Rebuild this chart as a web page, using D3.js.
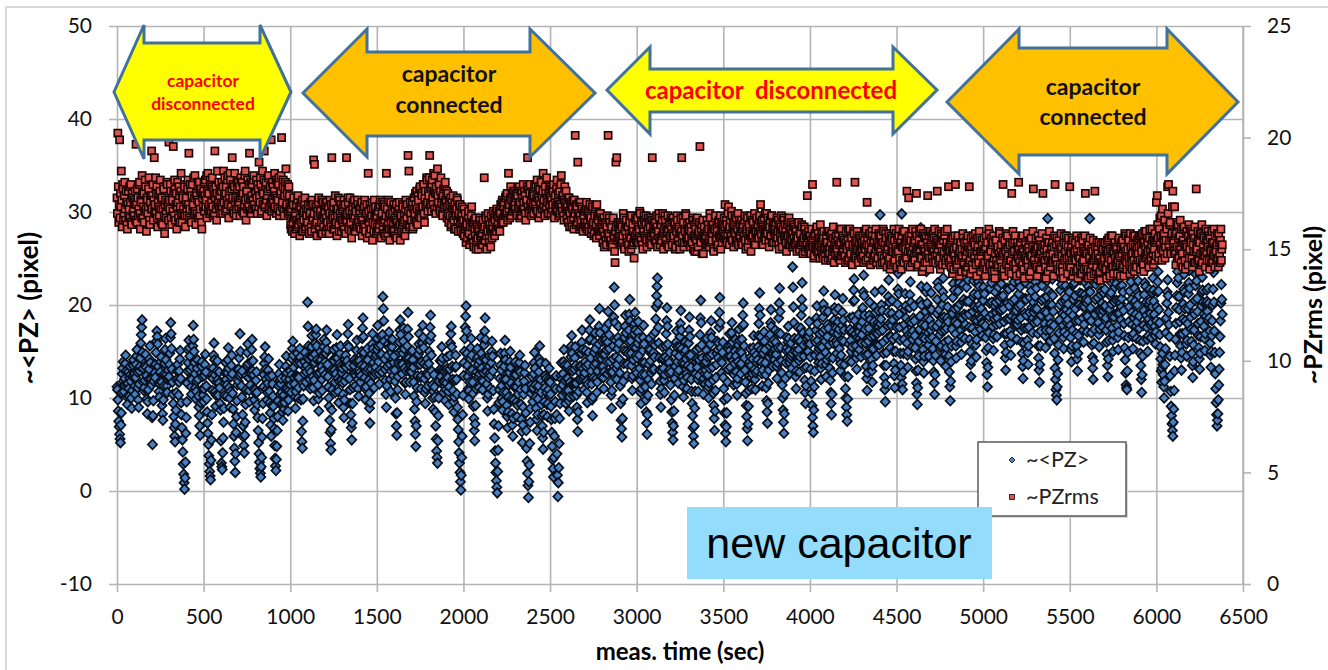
<!DOCTYPE html>
<html>
<head>
<meta charset="utf-8">
<script src="https://cdn.jsdelivr.net/npm/d3@7"></script>
<style>
body { margin: 0; background: #fff; }
svg { display: block; font-family: Lato, "Open Sans", sans-serif; }
</style>
</head>
<body>
<svg id="chart" width="1328" height="670"></svg>
<script>
var width = 1328;
var height = 670;

// axis ticks
var timeTicks = [0, 500, 1000, 1500, 2000, 2500, 3000, 3500, 4000, 4500, 5000, 5500, 6000, 6500];
var pzTicks = [-10, 0, 10, 20, 30, 40, 50];
var rmsTicks = [0, 5, 10, 15, 20, 25];

// samples logged every 2.5 s starting at t = 0
var sampleStep = 2.5;

// ~<PZ> (pixel), left axis, one row = 100 s
var pzValues = [
11.2,10.9,9.8,8.6,7.5,6.9,6.1,5.6,5.2,7.1,8.4,10.6,12.6,13.2,13.9,11.8,10.7,11.4,12.1,13.7,14.6,12.9,11.5,10.1,9.3,11.6,12.8,11.0,10.2,12.2,13.4,12.5,11.8,10.0,8.9,10.8,12.3,13.5,14.1,12.4,
12.7,11.3,10.4,12.2,13.6,14.5,15.2,12.8,11.1,9.8,9.0,11.5,12.9,13.4,14.3,15.9,16.8,17.6,18.4,14.9,13.2,11.7,10.8,11.1,11.9,13.5,14.7,13.3,12.4,9.9,8.3,9.6,10.9,12.0,13.1,14.2,15.6,13.8,12.0,11.6,
11.4,7.9,5.0,8.1,9.7,11.8,13.5,12.7,12.2,13.6,14.9,16.1,17.2,16.6,15.8,13.4,11.6,10.7,10.1,11.5,12.8,13.9,14.4,11.7,9.2,8.3,7.6,9.8,11.3,12.6,13.7,15.2,16.4,14.1,12.5,11.3,10.6,12.0,13.0,12.2,
12.3,13.6,14.8,16.5,18.1,16.9,15.3,13.1,11.7,10.4,9.4,8.0,6.8,5.9,5.3,7.2,8.7,10.6,12.0,12.9,13.6,11.8,10.3,11.7,12.9,14.2,15.1,12.1,9.5,8.2,6.8,5.5,4.2,2.9,1.8,0.9,0.2,1.4,3.1,6.2,
7.9,9.6,11.6,12.9,13.8,15.1,16.2,15.4,14.5,13.0,12.1,11.2,10.4,12.0,13.3,15.6,17.8,16.3,15.0,13.8,12.6,11.1,9.9,10.7,11.8,13.2,14.1,12.0,10.2,9.0,8.1,7.0,6.0,9.5,12.7,13.4,13.9,12.3,11.0,10.3,
9.6,11.0,12.4,13.6,14.7,12.8,11.3,9.9,8.5,7.3,6.2,5.0,3.8,2.9,2.1,1.6,1.2,3.3,5.5,8.2,10.8,12.1,13.2,14.6,15.9,14.1,12.5,10.7,9.1,10.3,11.7,12.9,14.0,12.0,10.3,11.6,12.8,11.1,9.4,8.7,
5.4,3.0,2.6,2.3,4.1,5.7,7.4,8.9,10.3,11.5,12.7,13.8,12.0,10.2,11.4,12.7,14.1,15.4,13.2,11.1,10.0,9.0,10.7,12.3,13.5,14.6,12.6,10.5,8.8,7.2,5.9,4.6,3.2,2.0,4.0,6.3,8.0,9.7,11.4,13.1,
11.8,13.1,14.3,12.4,16.9,15.0,12.6,11.3,10.1,12.9,8.2,7.0,5.8,4.9,4.1,6.0,7.4,9.3,10.9,12.4,13.5,14.9,15.8,13.7,12.2,10.8,9.6,12.7,11.4,12.6,13.9,15.2,16.3,12.9,14.0,12.5,11.0,9.8,8.7,10.9,
10.5,11.9,12.8,10.6,9.3,7.9,6.5,5.2,4.0,3.1,2.4,1.9,1.5,2.6,3.6,5.8,7.8,9.4,11.2,12.5,13.7,14.4,15.5,13.1,12.0,10.9,9.8,10.6,11.6,13.0,14.2,12.3,10.7,9.5,8.4,7.1,5.9,9.2,12.4,11.5,
10.2,9.1,7.8,6.7,4.9,3.5,2.7,2.2,3.4,4.8,6.5,8.0,9.7,11.3,12.6,13.6,11.9,10.4,11.5,12.1,10.6,9.4,8.5,7.6,9.0,10.3,8.8,9.5,11.0,12.1,13.4,14.5,12.7,11.0,9.9,8.6,9.8,10.8,12.0,13.0,
12.9,11.4,10.6,12.5,14.2,15.3,16.1,14.6,13.3,12.2,11.5,10.1,8.9,10.7,12.4,13.8,14.8,12.3,10.0,11.1,12.2,13.9,15.3,14.4,13.7,9.8,6.4,5.3,4.6,7.5,9.9,11.3,12.6,13.9,14.9,13.2,11.7,12.8,13.5,14.3,
20.3,17.7,15.6,14.2,13.1,12.0,11.0,12.8,14.4,15.5,16.7,14.4,12.3,11.1,9.7,11.9,13.8,14.7,15.9,16.8,17.4,15.6,14.1,12.6,11.4,9.9,8.6,10.5,12.7,14.0,15.0,14.1,13.4,12.0,10.8,12.9,14.6,15.5,16.3,14.8,
12.5,13.9,14.8,16.0,17.3,15.2,13.6,12.3,11.2,10.0,9.1,7.6,6.3,5.1,4.4,6.6,8.7,10.9,12.9,14.1,15.2,14.0,13.0,11.7,10.6,12.6,14.3,15.4,16.8,14.3,12.1,10.7,9.5,11.8,13.7,14.8,15.6,13.4,11.9,12.7,
13.2,11.6,10.4,9.0,7.9,9.8,11.8,13.4,14.6,13.3,12.3,14.0,15.7,16.9,17.9,15.5,13.5,12.1,10.9,9.4,8.2,6.8,5.5,7.3,9.4,11.1,12.7,13.5,14.1,12.6,11.3,12.4,13.9,15.1,16.2,14.0,12.0,11.0,10.2,12.6,
14.0,12.8,11.7,12.4,13.5,15.0,16.4,17.5,18.6,16.6,14.9,13.4,12.2,11.0,9.8,11.2,12.9,14.2,15.3,14.1,13.1,11.9,10.5,8.9,7.3,9.5,11.6,13.1,14.7,15.8,16.9,15.3,13.8,12.4,11.1,12.8,14.4,13.3,12.6,14.6,
15.2,16.4,17.8,15.6,13.9,12.6,11.5,13.0,14.6,15.7,16.6,14.7,12.8,16.8,20.9,19.6,18.3,16.1,14.2,13.1,11.9,10.4,9.0,11.3,13.4,14.6,15.8,16.5,17.1,15.4,13.6,12.0,10.7,12.9,14.9,15.5,16.3,14.2,12.4,13.8,
14.5,13.0,11.8,10.0,8.3,7.0,6.0,8.4,10.9,12.3,13.7,14.9,16.0,17.3,18.4,16.8,15.1,13.7,12.6,13.6,14.8,16.1,17.5,15.3,13.2,11.6,10.4,11.7,12.9,14.3,15.6,17.4,19.2,16.6,14.3,12.9,11.7,12.8,13.9,15.0,
12.8,14.0,15.1,14.1,13.3,11.7,10.2,8.8,7.5,6.1,4.8,7.0,9.6,11.1,12.4,13.6,14.7,15.8,16.9,15.2,13.6,12.2,11.0,12.4,13.9,15.9,17.8,16.5,15.4,13.7,12.1,10.6,9.4,11.0,12.6,13.5,14.2,12.7,11.3,12.5,
13.7,15.0,16.2,17.6,18.9,16.7,14.6,12.9,11.4,10.0,8.8,10.7,12.5,11.2,10.1,8.5,7.0,5.6,4.3,3.6,3.0,5.4,8.1,10.0,11.8,13.0,14.0,13.1,12.3,13.9,15.5,14.3,13.0,11.8,10.6,11.7,12.9,11.2,9.7,10.9,
11.6,13.0,14.4,13.2,12.2,10.7,9.3,11.2,13.1,14.6,15.9,16.9,17.7,15.5,13.4,12.0,10.8,9.6,8.5,10.1,11.9,13.3,14.6,13.4,12.0,10.4,9.0,7.7,6.6,5.3,4.1,3.0,2.0,1.0,0.1,1.7,3.6,5.9,8.2,10.3,
12.4,13.8,15.0,16.4,17.6,18.8,19.9,17.2,14.8,13.5,12.3,11.0,9.9,10.8,11.7,12.9,14.2,15.4,16.4,14.6,13.0,11.7,10.5,9.1,7.8,6.5,5.4,7.2,9.2,11.0,12.8,14.1,15.3,14.4,13.6,12.3,11.1,12.6,14.0,13.1,
16.5,14.8,13.2,12.0,10.9,11.8,12.7,14.2,15.7,17.2,18.6,16.3,14.1,12.8,11.5,10.0,8.6,10.4,12.2,13.4,14.5,12.7,11.0,12.4,13.8,15.0,16.1,14.5,12.9,10.8,8.8,7.2,5.7,4.3,3.0,2.0,1.1,0.4,-0.2,2.1,
4.4,7.0,9.5,10.9,12.1,13.5,14.8,13.0,11.3,10.0,8.7,9.6,10.6,12.0,13.4,14.8,16.2,14.1,12.0,10.6,9.2,8.0,6.8,8.5,10.1,11.4,12.7,13.9,15.0,13.3,11.6,9.9,8.3,7.1,5.9,7.8,9.8,11.2,12.5,13.7,
13.9,12.5,11.2,9.6,8.0,9.2,10.4,11.7,12.9,13.8,14.6,12.8,10.9,9.3,7.7,6.4,5.2,7.1,9.0,10.4,11.8,12.7,13.5,11.0,8.4,6.5,4.6,3.2,1.9,0.6,-0.7,1.0,2.8,5.1,7.4,8.9,10.5,11.4,12.3,11.0,
9.6,11.1,12.6,13.8,14.9,13.2,11.4,10.1,8.9,7.7,6.5,8.2,9.9,11.3,12.8,14.2,15.6,13.8,12.0,10.6,9.3,8.1,7.0,5.7,4.5,6.3,8.2,9.6,11.1,12.4,13.7,12.1,10.6,9.3,8.0,9.4,10.9,12.0,13.2,11.8,
11.7,10.4,9.1,7.7,6.3,4.8,3.4,2.4,1.5,3.6,5.9,7.8,9.6,11.0,12.4,8.2,4.0,1.7,-0.6,0.9,2.5,5.1,7.8,9.4,11.0,12.4,13.8,12.0,10.3,11.4,12.6,13.9,15.2,13.5,11.9,10.6,9.4,10.8,12.1,13.3,
13.5,12.1,10.8,9.7,8.6,10.1,11.7,13.0,14.4,15.6,16.7,14.8,12.9,11.5,10.2,11.6,13.1,14.3,15.5,13.5,11.6,10.3,9.0,7.7,6.4,8.5,10.7,12.0,13.4,12.7,12.0,13.4,14.8,16.0,17.3,15.2,13.2,12.0,10.9,12.3,
12.7,13.9,15.1,13.4,11.8,10.6,9.5,11.5,13.6,14.9,16.2,17.3,18.4,16.3,14.3,12.9,11.5,9.8,8.1,10.1,12.2,13.5,14.9,16.0,17.0,15.3,13.7,12.1,10.6,11.7,12.9,14.3,15.8,17.7,19.6,17.0,14.5,13.4,12.3,14.2,
16.1,14.7,13.4,12.2,11.0,12.8,14.7,16.1,17.5,16.3,15.2,13.9,12.6,16.0,19.3,18.0,16.8,15.3,13.9,12.8,11.7,10.3,8.9,10.8,12.8,14.2,15.6,18.7,21.9,20.0,18.1,16.2,14.4,13.2,12.0,13.6,15.3,16.5,17.7,15.9,
14.2,12.7,11.3,9.4,7.6,6.7,5.8,7.8,9.9,11.8,13.7,15.1,16.5,17.7,18.9,17.0,15.0,13.7,12.4,13.6,14.8,16.0,17.3,19.0,20.6,18.3,16.1,14.8,13.5,12.1,10.8,12.4,14.1,15.5,16.9,18.0,19.2,17.3,15.4,14.6,
12.7,14.3,15.9,17.1,18.2,16.4,14.6,13.2,11.9,10.6,9.4,11.0,12.5,13.8,15.1,16.5,17.8,15.8,13.8,12.5,11.2,9.8,8.5,7.3,6.1,8.2,10.3,12.0,13.6,15.0,16.4,15.2,14.0,12.7,11.5,13.1,14.7,15.8,16.8,14.9,
13.1,14.4,15.7,17.1,18.5,19.8,21.0,22.0,22.9,20.2,17.6,15.9,14.3,13.0,11.8,10.4,9.0,11.0,12.9,14.2,15.5,14.3,13.2,11.9,10.6,12.5,14.4,15.6,16.9,18.3,19.7,17.7,15.8,14.2,12.7,13.8,14.9,13.1,11.4,12.8,
9.8,8.5,7.3,6.3,5.5,7.0,8.6,10.3,12.1,13.4,14.8,16.0,17.2,15.5,13.9,12.7,11.6,13.0,14.5,15.5,16.6,18.0,19.4,17.3,15.3,13.8,12.3,11.2,10.1,11.9,13.7,14.8,16.0,15.1,14.2,12.6,11.0,12.2,13.5,14.6,
15.9,17.3,18.7,16.6,14.6,13.3,12.0,10.7,9.4,8.1,6.8,5.9,5.1,7.0,8.9,10.7,12.6,13.9,15.2,14.2,13.3,12.0,10.7,12.4,14.1,15.4,16.8,18.6,20.5,18.1,15.7,14.3,12.9,11.6,10.4,12.1,13.8,12.6,11.5,13.0,
13.9,15.1,16.4,14.4,12.5,11.2,10.0,11.6,13.2,14.5,15.8,17.0,18.3,16.5,14.7,13.3,11.9,10.5,9.2,7.8,6.5,8.6,10.8,12.2,13.6,14.8,16.1,15.2,14.3,15.9,17.6,19.2,20.8,18.1,15.4,14.0,12.7,13.8,14.9,16.0,
12.2,11.0,9.8,8.4,7.1,6.2,5.3,6.9,8.4,10.0,11.7,13.1,14.5,15.7,16.9,15.1,13.3,14.5,15.8,17.0,18.1,16.0,14.0,12.7,11.4,12.5,13.7,15.0,16.3,14.5,12.8,11.5,10.3,12.1,13.9,15.7,17.4,16.2,15.0,13.6,
12.6,13.7,14.9,16.3,17.7,18.9,20.2,17.9,15.6,14.3,13.0,11.7,10.5,9.2,8.0,6.7,5.4,7.2,9.1,10.8,12.4,13.9,15.3,14.4,13.5,12.2,11.0,12.6,14.2,15.4,16.7,14.9,13.1,12.0,10.9,12.7,14.6,13.8,12.9,14.1,
15.5,16.7,18.0,19.6,21.3,18.9,16.6,15.2,13.9,12.6,11.3,13.0,14.8,16.0,17.1,16.1,15.2,13.8,12.5,11.1,9.7,8.5,7.3,9.4,11.6,13.0,14.4,15.6,16.8,18.1,19.5,17.7,15.9,14.6,13.4,14.8,16.2,15.1,14.1,15.3,
17.3,16.0,14.7,13.4,12.1,13.8,15.4,17.0,18.6,20.2,21.8,19.3,16.9,15.4,14.0,12.7,11.4,10.0,8.7,7.4,6.2,8.3,10.4,12.1,13.8,15.1,16.5,15.4,14.3,16.0,17.7,16.4,15.1,13.8,12.6,14.2,15.9,14.5,13.2,14.8,
24.1,21.9,19.8,18.1,16.4,15.0,13.7,12.3,11.0,12.9,14.9,16.2,17.6,16.4,15.2,14.0,12.8,14.4,16.1,17.5,18.9,20.6,22.4,19.7,17.0,15.7,14.5,13.2,11.9,10.6,9.4,11.3,13.3,15.0,16.7,15.8,15.0,16.6,18.2,17.1,
15.8,14.4,13.1,11.8,10.5,9.2,7.9,7.0,6.3,8.7,11.2,12.9,14.6,16.0,17.3,18.6,19.9,18.0,16.2,15.0,13.8,15.3,16.9,15.6,14.4,13.2,12.0,13.7,15.5,17.1,18.7,20.1,21.5,19.4,17.4,16.1,14.9,13.6,12.3,14.1,
16.6,17.9,19.3,17.5,15.7,14.4,13.2,11.9,10.6,9.4,8.2,10.4,12.7,14.3,15.9,17.1,18.4,19.7,21.1,19.3,17.5,16.1,14.8,15.8,16.9,18.2,19.6,17.4,15.3,14.1,12.9,13.7,14.6,16.2,17.8,19.2,20.7,18.4,16.1,17.3,
13.6,12.3,11.0,10.0,9.0,8.2,7.5,9.9,12.3,14.0,15.8,17.2,18.6,17.4,16.2,15.0,13.9,15.5,17.1,18.7,20.4,21.6,22.8,20.5,18.3,16.9,15.6,14.3,13.1,14.8,16.5,17.7,19.0,17.1,15.2,16.4,17.7,16.0,14.4,15.9,
16.8,18.2,19.7,21.4,23.2,21.0,18.9,17.4,15.9,14.6,13.4,12.1,10.8,12.7,14.7,16.1,17.5,18.9,20.3,18.4,16.6,15.3,14.1,12.9,11.7,13.5,15.3,16.7,18.2,19.8,21.4,19.2,17.0,15.8,14.6,15.7,16.9,18.1,19.4,17.6,
15.7,17.2,29.7,18.0,18.5,20.0,21.6,19.4,17.3,16.0,14.8,13.5,12.2,10.9,9.6,11.5,13.5,14.9,16.4,17.8,19.2,20.9,22.7,20.3,18.0,16.7,15.4,16.6,17.8,19.1,20.5,18.4,16.3,15.0,13.7,12.4,11.1,13.0,15.0,16.6,
17.6,18.8,20.1,21.7,23.4,21.2,19.0,17.6,16.2,14.8,13.5,12.2,29.8,11.5,10.9,12.8,14.8,16.3,17.9,19.5,21.2,19.9,18.6,17.2,15.9,14.6,13.3,15.0,16.8,18.2,19.7,21.1,22.5,20.3,18.1,16.8,15.5,16.3,17.2,18.6,
19.9,18.3,16.7,15.4,14.2,12.9,11.6,10.4,9.3,11.1,13.0,14.5,16.1,17.4,18.8,20.4,28.3,22.0,20.0,17.9,16.5,15.2,13.9,12.7,14.5,16.4,17.8,19.3,21.4,23.6,21.9,20.2,18.6,17.0,15.7,14.5,16.4,18.4,19.6,17.3,
21.3,19.5,17.8,16.5,15.3,14.0,12.8,11.6,10.4,12.5,14.6,16.1,17.7,19.1,20.6,22.4,24.3,21.9,19.5,18.1,16.8,15.4,14.0,15.6,17.2,18.6,20.0,21.4,22.9,20.8,18.7,17.3,16.0,14.7,13.4,15.4,17.5,18.6,19.8,18.2,
16.2,14.5,12.8,11.2,9.7,11.8,13.9,15.6,17.4,19.1,20.8,22.3,23.7,21.6,19.6,18.2,16.9,15.6,14.3,16.1,18.0,19.7,21.5,23.1,24.8,22.4,20.1,18.7,17.3,16.0,14.7,16.6,18.6,20.4,22.2,20.6,19.0,17.7,16.4,17.9,
18.9,20.4,21.9,23.4,25.0,22.7,20.4,19.0,17.6,16.3,15.0,13.6,12.3,14.0,15.8,17.5,19.3,20.9,22.6,21.2,19.8,18.4,17.1,15.7,14.4,16.3,18.3,19.7,21.1,22.5,23.9,22.0,20.0,18.7,17.4,18.5,19.6,18.1,16.7,18.0,
20.5,21.9,23.4,21.2,19.1,17.8,16.5,15.1,13.8,12.5,11.2,13.3,15.4,17.0,18.7,20.2,21.8,23.2,24.6,22.4,20.3,19.0,17.7,16.4,15.1,16.8,18.5,19.9,21.4,20.3,19.2,17.9,16.6,18.6,20.7,21.9,23.1,20.5,18.0,19.3,
19.5,20.9,22.3,23.8,25.2,23.1,21.0,19.6,18.2,16.9,15.7,14.3,13.0,14.9,16.9,18.5,20.2,21.8,23.5,21.7,19.9,18.5,17.2,15.9,14.6,16.7,18.8,20.4,22.0,23.2,24.4,22.5,20.6,19.2,17.9,18.6,19.4,17.8,16.3,17.9,
18.4,19.8,21.2,22.5,23.8,21.9,20.0,18.6,17.3,16.0,14.8,13.4,12.1,14.0,15.9,17.5,19.1,20.7,22.4,20.6,18.9,17.5,16.2,14.9,13.6,15.6,17.6,19.2,20.8,22.0,23.3,21.5,19.7,18.3,17.0,18.6,20.3,19.2,18.1,19.6,
20.9,22.5,24.1,21.8,19.6,18.2,16.9,15.6,14.3,13.0,11.7,13.6,15.6,17.2,18.9,20.5,22.1,23.6,25.1,22.9,20.7,19.3,18.0,16.7,15.4,17.3,19.2,20.9,22.6,29.3,24.0,21.5,20.0,18.6,17.3,16.1,18.0,19.9,21.2,20.0,
22.8,21.0,19.3,17.8,16.4,14.8,13.2,12.0,10.9,10.3,9.8,11.2,12.6,14.1,15.7,17.0,18.4,20.0,21.6,22.8,24.0,22.2,20.4,19.1,17.8,16.5,15.3,17.1,18.9,20.5,22.1,20.8,19.5,18.1,16.8,18.4,20.1,21.6,23.2,21.4,
19.2,17.8,16.5,15.2,13.9,15.6,17.3,18.9,20.6,22.2,23.9,22.4,21.0,19.6,18.3,16.9,15.6,14.2,12.9,14.8,16.7,18.3,20.0,21.3,22.7,23.8,25.0,23.1,21.2,19.9,18.6,17.3,16.0,17.9,19.8,21.1,22.4,20.6,18.9,20.2,
17.1,18.8,20.5,22.0,23.4,21.5,29.3,21.4,19.7,18.3,17.0,15.7,14.4,13.2,12.0,14.0,15.9,17.4,19.0,20.6,22.2,23.4,24.7,22.7,20.8,19.4,18.1,16.8,15.5,17.4,19.4,21.1,22.9,21.5,20.2,18.9,17.6,19.4,21.3,19.8,
23.6,21.7,19.9,18.6,17.3,16.0,14.7,13.5,12.3,14.2,16.2,17.8,19.5,21.0,22.5,21.3,20.1,18.8,17.5,16.2,15.0,16.8,18.7,20.3,21.9,23.0,24.2,22.3,20.5,19.1,17.8,16.5,15.2,17.1,19.1,20.5,22.0,20.2,18.4,19.8,
20.7,22.1,23.5,21.4,19.4,18.0,16.7,15.4,14.1,12.7,11.4,11.1,10.9,12.9,14.9,16.5,18.2,19.8,21.5,23.0,24.5,22.5,20.6,19.2,17.9,16.6,15.3,16.9,18.6,20.2,21.8,20.4,19.0,17.7,16.4,18.2,20.0,21.3,22.6,21.0,
18.8,17.5,16.2,14.8,13.5,12.0,10.6,12.5,14.5,16.1,17.8,19.4,21.1,22.4,23.8,22.0,20.3,18.9,17.6,16.3,15.0,16.7,18.5,20.1,21.7,20.4,19.1,17.8,16.5,18.1,19.8,21.3,22.9,21.6,20.4,19.0,17.7,16.7,15.8,17.1,
18.3,19.8,21.4,22.5,23.6,21.5,19.5,18.1,16.8,15.5,14.2,12.9,11.7,13.2,14.8,13.6,12.5,11.2,10.0,11.8,13.6,15.3,17.0,18.6,20.2,21.4,22.7,21.0,19.2,17.9,16.6,14.5,12.4,10.7,9.1,8.1,7.2,6.5,5.9,7.4,
8.8,10.8,12.9,14.6,16.3,18.0,19.7,21.0,22.4,23.6,24.9,22.9,20.9,19.5,18.2,16.9,15.6,14.3,13.0,14.9,16.9,18.5,20.1,21.7,23.3,21.4,19.6,18.3,17.1,15.8,14.5,16.2,18.0,19.6,21.2,22.4,23.7,21.8,20.0,18.7,
17.4,16.1,14.8,13.5,12.2,13.9,15.7,17.3,19.0,20.5,22.1,23.3,24.6,22.6,20.7,19.3,18.0,16.7,15.4,14.2,13.1,14.8,16.6,18.2,19.9,21.4,23.0,21.6,20.3,19.0,17.7,16.4,15.1,16.9,18.8,20.2,21.6,20.4,19.3,18.4,
21.8,20.2,18.6,17.2,15.9,14.6,13.3,15.0,16.7,18.3,20.0,21.7,23.5,20.3,17.2,14.9,12.6,11.0,9.5,8.2,7.0,7.6,8.3,9.8,11.4,13.1,14.9,16.6,18.3,20.2,22.2,20.6,19.0
];

// ~PZrms (pixel), right axis, one row = 100 s
var pzRmsValues = [
17.3,16.6,20.2,17.8,16.2,17.0,19.9,16.4,17.5,16.9,18.5,17.2,16.0,17.9,17.7,16.3,16.6,17.4,18.0,16.8,16.3,17.6,17.1,16.1,15.9,17.0,17.6,16.5,16.8,17.8,16.4,17.1,17.9,16.2,16.1,17.5,17.3,16.6,16.7,17.2,
16.5,17.1,17.6,16.3,19.7,17.0,16.2,17.7,17.3,16.5,16.8,17.9,18.0,16.6,15.9,17.2,17.1,16.4,18.3,17.5,16.4,16.9,17.5,16.2,16.7,18.1,17.8,16.8,15.8,17.3,17.2,16.6,16.9,17.7,18.2,16.3,16.1,17.1,17.4,16.8,
19.4,16.8,17.4,17.9,16.3,17.2,19.1,16.7,17.0,18.2,16.6,17.5,17.8,16.4,16.0,17.1,17.5,16.9,16.5,17.6,18.1,16.8,16.2,17.3,17.3,16.1,16.8,17.8,17.7,16.5,15.7,17.0,17.2,16.6,16.4,18.0,17.9,17.1,16.9,16.3,
19.8,17.2,16.8,17.9,17.6,16.4,16.1,17.3,17.2,16.7,19.6,17.6,16.5,18.1,17.7,16.3,17.0,17.5,15.9,16.9,18.0,17.1,16.4,17.8,17.4,16.2,16.9,17.6,18.4,16.6,16.2,17.4,17.3,16.8,16.6,17.9,17.8,16.5,16.0,17.2,
17.3,16.8,16.5,17.7,18.1,17.0,19.3,16.4,16.8,17.9,17.6,16.3,16.2,17.4,17.9,16.9,17.0,18.2,16.6,17.3,18.3,16.7,16.1,17.5,17.4,16.6,17.2,18.0,16.4,17.1,18.0,16.5,16.8,17.6,17.7,16.2,15.9,17.3,17.5,16.9,
17.6,18.0,16.7,17.4,18.1,16.9,17.2,18.3,16.4,17.6,18.4,16.8,17.5,17.0,16.6,18.1,17.9,16.7,17.1,17.8,18.2,16.9,16.5,17.7,17.4,16.6,19.4,17.3,17.8,16.8,16.3,17.5,18.5,17.0,17.2,18.0,16.8,17.4,17.7,16.6,
17.0,17.6,18.0,16.9,16.6,17.8,18.5,17.1,17.4,18.2,16.7,17.5,17.8,16.8,17.2,18.1,18.3,17.0,16.4,17.4,17.6,18.4,18.1,16.9,16.9,17.7,19.1,17.3,17.9,16.7,16.6,17.8,18.4,17.1,17.3,16.5,16.8,18.0,17.7,17.2,
18.0,16.9,17.1,17.8,16.5,17.3,18.2,16.8,17.4,18.0,16.7,17.5,17.8,16.6,17.0,18.3,18.5,17.2,16.3,17.6,17.6,16.8,18.1,17.3,16.9,17.9,19.3,16.7,17.3,18.0,16.6,17.4,17.9,16.8,17.2,18.1,18.3,17.0,16.8,17.5,
17.5,16.8,18.1,17.3,16.6,17.9,17.7,16.9,18.9,17.4,17.1,18.2,17.9,16.6,16.7,17.6,18.5,17.0,17.5,18.1,19.4,16.9,17.0,17.8,18.0,17.2,16.5,17.4,17.6,18.2,18.3,16.8,16.9,17.7,17.8,17.1,19.9,16.7,17.2,18.0,
17.8,17.1,16.8,17.6,18.4,16.9,17.4,18.1,16.6,17.3,18.0,16.8,17.2,17.9,18.2,16.5,16.7,17.5,17.6,18.3,20.0,16.9,17.1,17.8,18.1,16.7,16.5,17.4,17.7,18.0,18.6,16.9,17.0,17.5,17.9,16.6,16.7,17.8,17.4,16.9,
16.7,16.1,15.9,16.8,17.1,15.8,16.2,17.0,17.3,16.4,15.7,16.6,16.5,15.9,17.0,16.3,16.0,17.2,17.4,16.1,16.3,16.9,15.6,16.4,16.9,17.1,16.2,15.8,17.2,16.6,15.8,16.3,16.7,17.0,17.3,15.9,16.0,16.8,16.5,16.2,
16.2,16.8,17.0,15.9,15.7,16.5,16.6,17.1,16.0,15.8,17.2,16.3,16.4,17.0,19.0,16.6,18.8,15.9,16.1,16.9,16.9,16.2,15.6,16.7,16.5,17.1,17.3,16.0,15.9,16.6,16.7,15.7,16.2,17.2,15.7,16.5,17.1,16.0,16.4,16.8,
16.6,17.0,15.8,16.4,17.1,16.0,16.2,16.9,16.8,15.9,15.7,16.6,17.2,16.3,16.0,17.0,19.1,16.5,16.4,15.9,16.9,17.1,15.9,16.4,17.4,16.1,16.2,16.8,15.6,16.5,16.8,17.3,16.1,15.8,17.2,16.6,16.4,17.0,15.8,16.3,
16.8,16.3,16.0,16.9,17.2,15.9,16.4,17.0,15.7,16.5,19.1,16.2,16.6,17.3,17.1,16.0,15.9,16.7,17.3,16.4,16.2,15.8,15.5,16.6,16.9,17.1,16.4,15.9,17.2,16.5,15.8,16.9,16.7,16.0,16.1,17.2,17.0,16.3,16.2,16.8,
16.0,16.7,16.9,15.9,16.4,17.1,15.6,16.3,16.8,15.9,16.1,16.9,17.2,16.0,15.8,16.6,16.6,17.0,15.5,16.3,18.4,16.7,16.2,15.7,17.0,16.4,15.9,16.8,16.5,17.1,15.4,16.2,16.8,15.8,17.2,16.5,16.1,16.9,16.6,15.7,
16.5,16.0,15.8,16.7,16.9,15.9,16.1,17.0,17.2,16.3,15.5,16.4,16.6,17.1,15.9,16.2,17.0,15.7,16.3,16.9,15.6,16.5,18.4,16.0,16.8,15.7,16.1,17.2,16.5,15.9,15.4,16.6,17.1,16.2,15.9,16.8,16.6,15.8,16.2,17.0,
15.8,16.4,16.8,15.6,16.3,17.0,15.5,16.2,16.7,15.9,16.0,16.8,17.1,16.1,15.4,16.6,16.5,15.8,16.1,17.0,16.9,16.2,15.7,16.5,16.3,15.6,16.8,17.2,15.9,16.4,17.0,16.1,19.2,16.7,18.5,16.0,16.1,17.1,16.6,16.3,
16.3,16.9,17.1,15.9,16.0,16.8,17.3,16.4,16.6,17.5,17.0,16.2,17.6,16.8,16.1,17.4,17.2,16.5,16.7,17.7,17.8,16.6,16.4,17.5,17.4,16.8,16.9,17.9,17.9,16.6,16.2,17.3,17.6,16.9,17.0,18.2,18.1,17.1,16.7,17.6,
17.4,18.2,19.2,17.0,17.8,16.9,16.7,17.9,18.1,17.3,17.0,18.4,17.6,16.8,18.3,17.5,16.6,17.8,17.5,16.9,18.6,17.4,17.1,18.0,17.9,16.8,16.7,17.6,18.2,17.1,17.3,16.6,16.5,17.4,17.7,16.9,17.0,17.8,18.0,17.2,
17.1,17.6,16.4,16.9,17.5,16.6,16.2,17.2,17.0,16.5,17.3,16.0,16.1,17.1,16.9,16.4,17.4,16.8,16.3,15.9,17.0,16.7,15.9,16.5,16.8,17.3,17.2,16.3,15.8,16.5,16.6,17.0,17.0,16.2,15.8,16.4,16.5,16.9,16.2,15.7,
16.3,16.8,15.6,15.9,16.6,16.0,15.3,16.2,16.1,15.5,15.8,16.5,16.7,15.7,15.2,16.1,16.0,15.4,16.5,16.9,15.5,16.0,16.2,15.3,15.1,16.3,15.9,15.6,16.4,15.0,15.4,16.1,16.0,15.5,15.0,15.9,15.8,16.4,16.3,15.6,
15.6,15.2,16.1,15.7,15.2,16.3,15.9,15.4,18.2,16.0,15.4,16.5,16.4,15.6,15.0,15.9,15.8,16.6,16.3,15.5,15.3,16.1,15.9,15.1,16.5,15.8,15.5,16.2,15.9,16.7,16.4,15.7,15.6,16.3,16.6,15.9,15.8,16.8,16.5,16.0,
16.1,16.5,16.7,15.9,15.8,16.6,17.0,16.2,16.3,17.1,17.2,16.4,16.2,16.9,17.1,16.6,16.5,17.3,17.4,16.6,16.7,17.5,16.3,17.0,18.4,16.8,17.0,16.4,17.3,17.8,16.5,17.2,17.5,16.7,16.8,17.6,17.1,16.9,17.6,17.0,
16.8,17.3,17.5,16.6,16.5,17.4,17.7,16.9,17.0,17.8,16.4,17.1,17.6,16.5,16.7,17.5,17.3,16.8,17.9,17.1,16.8,17.6,17.4,16.6,16.3,17.1,17.2,17.8,19.1,16.9,17.7,16.7,16.6,17.5,17.9,17.0,17.2,16.5,16.8,17.4,
17.5,17.0,16.6,17.4,17.8,16.9,17.1,17.9,16.8,17.3,18.1,16.7,17.3,17.8,16.4,17.2,17.7,16.6,17.0,18.0,18.0,17.4,16.8,17.6,18.4,17.0,17.2,16.7,16.5,17.8,17.5,16.9,18.2,17.3,17.1,16.6,16.6,17.5,17.7,17.0,
17.3,17.8,16.6,17.2,17.7,16.8,17.0,17.6,17.9,16.5,16.4,17.3,17.4,16.9,16.8,17.7,18.1,16.7,17.1,17.5,16.5,17.0,17.6,16.6,17.0,17.9,18.3,16.9,16.7,17.4,17.4,16.5,16.3,17.2,17.8,16.9,17.1,17.6,16.8,16.4,
16.9,17.3,16.2,16.7,17.3,16.0,16.6,17.1,17.0,16.3,16.0,16.9,16.8,17.2,16.4,15.9,17.2,16.6,20.1,16.8,16.1,17.0,16.9,16.2,18.9,16.4,16.6,17.1,15.9,16.5,17.1,16.0,16.3,16.9,16.8,15.9,15.8,16.6,16.5,16.1,
16.7,16.2,16.0,16.8,17.1,15.9,16.2,16.7,16.6,16.0,15.8,16.5,17.0,16.3,16.4,15.7,15.9,16.8,16.9,16.1,16.2,15.6,15.7,16.5,16.8,16.9,16.1,15.5,17.0,16.4,15.8,16.3,16.5,15.9,15.6,16.6,16.6,15.8,16.0,16.4,
15.9,16.3,15.3,15.8,16.4,15.1,15.6,16.2,16.1,15.4,15.2,16.0,16.5,15.7,20.1,15.5,15.7,16.4,16.2,15.3,15.4,15.9,16.0,15.2,15.1,16.3,16.4,15.6,15.6,14.9,14.4,15.8,18.9,16.0,19.1,15.4,15.5,16.2,16.1,15.7,
15.5,15.9,16.2,15.4,15.2,16.1,16.0,15.3,15.6,16.6,16.4,15.1,15.0,15.9,15.8,16.2,16.3,15.5,15.3,16.0,16.0,15.2,14.9,15.7,16.2,16.5,15.5,15.0,16.5,15.8,15.2,16.1,15.8,15.3,14.6,15.5,15.6,16.4,16.3,15.4,
15.8,15.3,16.4,16.0,15.3,15.6,15.9,16.7,16.6,15.5,15.4,16.2,16.1,15.2,15.0,15.9,15.8,16.5,16.3,15.6,15.5,16.1,16.5,15.4,15.1,15.8,15.9,16.4,16.2,15.3,15.4,16.0,16.4,15.6,15.2,16.3,19.1,15.7,15.8,16.1,
16.3,15.7,15.4,16.2,15.9,15.3,16.5,16.0,15.1,15.6,15.8,16.6,16.4,15.5,15.2,16.1,16.1,15.4,15.6,16.3,16.6,15.7,15.0,15.8,15.9,16.5,16.3,15.3,15.4,16.0,15.8,15.2,16.5,15.9,15.1,16.2,16.1,15.5,15.6,16.4,
15.9,16.3,15.2,15.7,16.4,15.5,15.6,16.2,16.1,15.0,15.1,15.9,15.8,16.5,16.3,15.4,15.4,16.0,15.9,15.2,15.0,15.7,16.4,15.8,19.1,15.3,15.6,16.4,16.2,15.1,15.3,15.9,15.8,16.6,16.5,15.5,15.4,16.1,15.9,15.3,
15.5,15.9,16.2,15.2,15.1,16.0,15.8,15.4,15.3,16.4,16.3,15.0,15.6,16.1,14.9,15.5,15.9,16.3,15.4,14.9,16.4,15.7,15.1,15.6,15.8,16.2,19.6,15.4,15.3,15.9,16.1,14.8,15.6,16.3,14.8,15.5,16.0,15.7,15.5,15.1,
15.6,15.2,16.3,15.8,15.2,16.1,15.9,15.4,15.1,16.6,16.4,15.3,15.8,16.0,15.4,15.7,16.1,15.0,14.9,15.9,15.9,16.4,16.5,15.5,15.4,16.0,15.8,15.1,15.2,16.2,16.3,15.6,15.6,16.5,15.0,15.7,16.2,15.3,15.8,16.1,
15.9,15.5,16.4,16.0,17.0,15.6,15.4,16.3,16.1,15.3,15.7,16.6,16.9,15.9,15.2,16.0,16.3,15.5,15.6,16.7,16.5,15.4,15.9,16.2,15.1,15.8,16.1,16.5,15.7,15.3,16.4,16.0,15.4,15.9,16.6,15.2,15.6,16.3,16.1,15.6,
15.8,15.3,16.3,15.9,15.2,16.0,16.1,15.5,15.6,16.3,16.5,15.4,15.0,15.8,15.9,16.4,16.4,15.1,15.4,16.0,16.1,15.6,15.8,16.5,14.9,15.5,16.3,15.7,15.6,16.2,15.9,15.3,16.6,15.9,15.2,15.7,15.8,16.4,16.1,15.5,
16.1,15.7,15.5,16.3,16.5,15.8,17.0,16.2,15.7,15.3,16.3,16.0,15.2,15.9,16.4,15.5,15.9,16.6,15.4,15.8,16.6,15.9,15.7,16.4,16.1,15.4,15.1,16.0,16.3,15.6,15.6,16.5,16.5,15.3,15.9,16.2,15.3,15.8,16.1,15.6,
15.9,16.2,15.3,15.7,16.4,15.5,15.8,16.3,15.2,15.0,16.1,15.8,15.6,16.0,16.5,15.4,15.1,15.8,15.9,16.4,16.3,15.6,15.4,16.1,15.8,15.3,14.9,15.6,16.1,16.3,15.6,15.2,16.4,15.9,15.2,15.5,15.9,16.2,15.4,15.1,
15.7,16.1,15.1,15.5,16.0,15.2,15.3,15.9,15.8,15.4,14.9,15.6,15.5,16.2,16.2,15.1,15.0,15.8,15.7,15.2,15.3,16.1,16.0,15.4,14.8,15.3,15.5,16.0,15.9,14.9,15.1,15.6,15.7,15.2,17.4,15.5,15.0,15.8,15.6,15.1,
15.6,15.0,14.8,15.4,15.9,15.2,17.9,15.5,15.1,14.6,14.7,15.6,15.7,15.1,15.0,15.9,16.0,14.9,15.3,15.7,14.8,15.2,15.5,14.6,16.1,15.3,14.9,15.7,15.4,14.8,14.6,15.5,15.8,15.0,15.1,14.7,14.5,15.3,15.6,15.0,
15.3,15.8,14.6,15.0,15.8,14.8,15.1,15.6,14.5,15.3,15.7,14.6,14.9,15.5,16.0,15.0,14.4,15.2,15.5,14.8,15.1,15.6,18.0,15.0,14.7,15.4,15.7,14.6,15.2,15.9,14.5,15.3,15.9,14.7,14.9,15.6,15.5,15.0,14.7,15.4,
15.2,14.7,14.4,15.3,15.8,15.1,15.0,14.5,15.4,15.9,14.6,15.2,15.9,14.9,14.8,15.6,15.5,14.4,14.3,15.1,15.2,15.8,15.7,14.7,18.0,15.3,14.6,15.0,15.4,15.8,15.0,14.5,14.4,15.3,15.6,14.9,14.8,15.5,15.2,14.6,
14.9,15.3,15.6,14.7,14.4,15.1,15.4,15.8,15.0,14.5,15.9,15.2,17.1,15.5,14.6,14.9,15.2,15.7,15.7,14.8,14.3,15.4,15.0,15.8,15.6,14.5,14.6,15.3,15.4,14.7,14.8,15.6,15.9,15.0,14.4,15.3,15.2,14.6,15.1,15.7,
15.1,15.6,14.3,14.9,15.6,15.2,14.7,14.4,15.3,15.9,15.8,14.6,14.4,15.2,15.0,15.7,15.5,14.8,14.2,15.0,15.1,14.5,15.7,15.3,14.6,14.1,15.3,15.6,14.3,14.9,15.5,15.1,14.9,14.4,15.9,15.4,14.5,15.0,15.1,15.7,
14.8,14.2,15.5,15.0,14.9,15.6,15.9,14.6,14.3,15.2,15.3,14.1,15.6,15.1,14.5,15.8,15.1,14.4,15.8,15.3,14.7,15.0,15.4,14.6,17.6,15.5,14.3,14.9,17.3,15.6,15.2,14.2,14.9,15.4,15.7,14.8,14.4,15.9,15.1,14.6,
15.3,14.7,14.5,15.4,15.8,14.9,17.5,15.6,15.0,14.2,14.3,15.1,15.4,15.8,15.0,14.6,15.9,15.2,14.6,14.0,15.2,15.7,14.2,15.0,15.6,14.4,14.9,15.5,15.5,14.7,14.4,15.3,17.4,14.8,15.1,15.6,14.6,14.1,15.8,15.2,
15.1,15.6,14.6,15.0,15.7,14.4,14.9,15.5,15.9,14.7,14.4,15.2,15.4,14.8,17.6,15.3,15.0,14.5,15.8,15.2,14.6,14.1,15.2,15.7,15.6,14.9,14.3,15.4,15.4,14.7,14.9,15.6,15.8,14.3,14.5,15.1,15.3,15.9,15.0,14.6,
17.8,15.1,14.4,14.9,15.3,14.6,14.2,15.4,14.9,13.9,15.5,14.8,14.1,15.0,14.7,15.6,17.9,14.5,15.1,14.2,14.3,15.4,15.6,14.7,14.5,13.8,14.9,15.2,15.3,14.6,14.0,15.0,14.7,15.7,15.5,14.4,14.3,15.3,14.9,14.1,
14.7,14.0,15.4,14.9,14.2,15.6,15.1,14.4,17.8,15.0,14.5,13.9,15.5,15.1,14.8,14.3,14.1,15.6,15.3,14.7,14.6,15.2,15.7,14.4,14.3,13.8,14.9,15.5,15.1,14.6,14.4,15.8,15.5,14.9,14.0,14.7,14.9,15.4,15.2,14.2,
14.9,14.3,15.5,15.0,14.4,13.8,15.1,15.6,14.1,14.7,15.3,14.5,14.7,15.9,15.7,14.2,14.3,15.0,14.9,15.5,15.2,14.0,14.4,15.3,15.6,14.6,14.0,13.7,14.8,15.4,15.4,14.5,14.2,15.0,15.1,14.3,14.8,15.8,15.7,14.6,
14.5,15.0,15.2,14.2,14.7,15.5,17.9,14.8,14.1,13.8,15.4,15.0,14.9,15.7,14.3,14.6,15.6,15.1,14.7,14.2,14.0,15.3,15.2,14.5,14.5,13.9,17.5,14.8,15.3,15.8,14.3,14.9,14.9,15.4,15.6,14.4,14.1,13.8,14.7,15.3,
15.1,14.6,18.0,15.0,14.4,13.9,15.3,14.8,14.2,15.5,14.9,14.3,15.6,15.0,14.1,13.7,14.7,15.3,15.2,14.6,14.4,15.0,15.7,14.5,14.2,15.1,14.9,13.8,15.4,14.7,14.0,15.5,14.7,14.3,15.1,15.8,17.7,14.4,14.5,15.0,
14.9,14.3,15.5,15.0,14.2,13.8,15.1,15.6,14.6,14.1,15.4,14.8,14.1,15.2,14.9,14.4,15.7,15.1,17.5,14.6,14.4,15.0,15.2,14.5,14.2,13.7,15.5,15.0,14.7,15.3,14.0,14.5,15.3,15.8,14.8,14.2,14.4,15.0,15.1,14.5,
15.3,14.8,14.4,13.8,15.1,15.6,17.9,14.5,14.6,15.2,15.5,14.3,14.1,14.8,14.9,15.4,15.2,14.0,14.3,15.0,15.7,15.1,14.7,14.2,14.0,13.7,15.3,15.6,14.5,14.9,14.9,15.2,15.6,14.6,14.2,13.9,15.1,15.5,14.7,14.3,
17.8,14.9,14.2,14.8,15.1,15.5,14.5,13.8,15.4,14.9,14.0,14.6,14.9,15.3,14.5,14.0,15.6,15.0,14.1,13.7,14.7,15.4,15.2,14.6,14.3,13.9,14.9,15.5,13.9,14.4,15.4,15.0,14.5,14.1,14.9,15.6,17.5,14.8,14.2,13.8,
14.8,15.3,14.1,13.7,15.2,14.7,14.6,15.5,14.0,13.8,15.0,14.4,14.3,14.9,15.4,14.5,13.9,14.6,17.6,15.1,14.7,14.0,14.2,15.3,15.1,14.8,14.5,13.9,15.3,14.6,14.0,13.6,14.4,15.2,14.9,14.3,14.2,15.0,15.3,14.5,
14.6,14.1,15.3,14.9,14.1,13.7,14.8,15.4,14.4,14.9,15.5,14.6,14.0,13.8,15.0,15.6,14.5,14.2,15.6,14.9,14.2,13.9,14.8,15.2,15.3,14.6,14.3,15.1,15.0,14.4,13.9,14.5,14.8,15.4,15.5,14.7,14.3,13.8,15.0,15.3,
14.8,14.2,15.4,15.0,14.3,13.8,15.1,15.7,14.5,14.9,15.6,14.4,14.1,14.7,15.0,15.5,15.4,14.6,14.3,13.9,15.7,15.1,14.7,14.4,14.1,14.8,15.2,15.6,14.5,14.0,15.6,15.1,14.9,14.3,14.2,15.0,15.4,14.6,14.8,15.5,
15.1,15.6,14.5,14.1,15.6,15.2,14.9,14.4,15.7,15.3,14.3,14.0,15.3,15.8,14.7,15.1,15.8,14.6,14.8,15.5,15.3,14.9,14.4,14.2,15.5,15.9,15.0,14.5,14.6,15.2,15.9,15.4,14.8,14.3,15.4,15.0,14.5,15.7,15.3,14.7,
17.1,15.4,17.4,16.1,15.5,14.6,14.8,15.9,16.4,15.2,15.6,16.5,15.0,14.5,16.8,15.6,14.9,15.3,15.7,16.3,14.6,15.1,15.4,16.0,15.9,14.8,17.8,16.6,17.9,15.2,15.4,16.1,16.2,14.9,14.8,15.5,15.7,16.9,17.6,15.3,
15.4,14.9,16.9,15.6,14.8,14.3,15.7,16.2,15.1,14.6,16.1,15.5,14.6,15.0,15.6,16.3,15.0,14.4,15.9,15.3,14.8,14.2,15.4,15.9,16.0,15.2,14.5,14.1,15.2,15.7,15.8,15.1,14.8,14.3,15.6,16.1,14.6,15.0,15.9,15.4,
15.3,15.8,14.6,14.2,15.7,15.2,14.9,14.4,15.5,16.0,14.4,14.9,17.7,15.3,15.0,14.5,15.8,15.4,14.5,14.0,15.3,15.7,14.8,14.3,15.7,16.1,14.4,14.8,15.1,15.6,15.5,14.9,14.7,14.2,15.9,15.4,14.9,14.5,15.3,15.8,
15.1,15.6,14.5,14.1,15.5,15.0,14.9,14.4,15.8,15.3,14.4,14.8,15.3,15.9,14.7,14.2,15.6,15.1,14.9,14.5,15.2,15.7,14.6,14.2,15.7,15.3,14.8,14.4,15.4,15.9,14.5,15.0,15.2
];

// annotation arrows (pixel layout), label lines and colours
var arrows = [
    {tipL: 114, notchL: 144, notchR: 260, tipR: 291, top: 25, bottom: 159, shaftTop: 43, shaftBottom: 140, mid: 92,
     fill: "#ffff00", color: "#ff0000", size: 17.5, cx: 203, lines: [["capacitor", 87], ["disconnected", 110]]},
    {tipL: 303, notchL: 367, notchR: 530, tipR: 595, top: 29, bottom: 157, shaftTop: 52, shaftBottom: 136, mid: 93,
     fill: "#ffc000", color: "#111", size: 23, cx: 449, lines: [["capacitor", 82], ["connected", 113]]},
    {tipL: 607, notchL: 650, notchR: 893, tipR: 937, top: 47, bottom: 134, shaftTop: 69, shaftBottom: 112, mid: 90,
     fill: "#ffff00", color: "#ff0000", size: 24, cx: 771, lines: [["capacitor\u00a0\u00a0disconnected", 99]]},
    {tipL: 947, notchL: 1019, notchR: 1167, tipR: 1238, top: 29, bottom: 174, shaftTop: 48, shaftBottom: 155, mid: 102,
     fill: "#ffc000", color: "#111", size: 23, cx: 1093, lines: [["capacitor", 95], ["connected", 125]]}
];

var plot = {left: 117, right: 1243, top: 26, bottom: 584};
var gridColor = "#b4b4b4";

var svg = d3.select("#chart");

// outer chart frame
svg.append("rect")
    .attr("x", 6).attr("y", 7)
    .attr("width", 1340).attr("height", 700)
    .attr("fill", "#fff")
    .attr("stroke", "#d9d9d9")
    .attr("stroke-width", 2);

var x = d3.scaleLinear().domain([0, 6500]).range([plot.left, plot.right]);
var yLeft = d3.scaleLinear().domain([-10, 50]).range([plot.bottom, plot.top]);
var yRight = d3.scaleLinear().domain([0, 25]).range([plot.bottom, plot.top]);

var plotW = plot.right - plot.left;
var plotH = plot.bottom - plot.top;

function styleAxis(g) {
    g.select(".domain").remove();
    g.attr("font-family", "Lato, 'Open Sans', sans-serif")
        .attr("font-size", 21);
    g.selectAll("line")
        .attr("stroke", gridColor)
        .attr("stroke-width", 1.6);
    g.selectAll("text").attr("fill", "#111");
}

// horizontal grid + left axis
var gLeft = svg.append("g")
    .attr("transform", `translate(${plot.left},0)`)
    .call(d3.axisLeft(yLeft).tickValues(pzTicks).tickSizeInner(-plotW).tickSizeOuter(0).tickPadding(25).tickFormat(d => String(d)))
    .call(styleAxis);
gLeft.selectAll("line").attr("x1", -8);

// vertical grid + bottom axis
var gBottom = svg.append("g")
    .attr("transform", `translate(0,${plot.bottom})`)
    .call(d3.axisBottom(x).tickValues(timeTicks).tickSizeInner(-plotH).tickSizeOuter(0).tickPadding(25).tickFormat(d => String(d)))
    .call(styleAxis);
gBottom.selectAll("line").attr("y1", 8);

// right axis
var gRight = svg.append("g")
    .attr("transform", `translate(${plot.right},0)`)
    .call(d3.axisRight(yRight).tickValues(rmsTicks).tickSize(8).tickPadding(16).tickFormat(d => String(d)))
    .call(styleAxis);
gRight.append("line")
    .attr("y1", plot.top).attr("y2", plot.bottom)
    .attr("stroke", gridColor).attr("stroke-width", 1.6);

// axis titles
svg.append("text")
    .attr("x", 680).attr("y", 660)
    .attr("text-anchor", "middle")
    .attr("font-weight", "bold").attr("font-size", 24)
    .text("meas. time (sec)");

svg.append("text")
    .attr("transform", "translate(38,308) rotate(-90)")
    .attr("text-anchor", "middle")
    .attr("font-weight", "bold").attr("font-size", 26)
    .text("~<PZ> (pixel)");

svg.append("text")
    .attr("transform", "translate(1322,305) rotate(-90)")
    .attr("text-anchor", "middle")
    .attr("font-weight", "bold").attr("font-size", 25)
    .text("~PZrms (pixel)");

// markers
var diamond = "M0,-4.8L4.6,0L0,4.8L-4.6,0Z";

svg.append("g").selectAll("path")
    .data(pzValues)
    .enter().append("path")
    .attr("d", diamond)
    .attr("transform", (d, i) => `translate(${x(i * sampleStep)},${yLeft(d)})`)
    .attr("fill", "#4a7fc0")
    .attr("stroke", "#07101c")
    .attr("stroke-width", 1.7);

svg.append("g").selectAll("rect")
    .data(pzRmsValues)
    .enter().append("rect")
    .attr("x", (d, i) => x(i * sampleStep) - 3.6)
    .attr("y", d => yRight(d) - 3.6)
    .attr("width", 7.2).attr("height", 7.2)
    .attr("fill", "#dc5550")
    .attr("stroke", "#1c0404")
    .attr("stroke-width", 1.6);

// double arrows
var arrowG = svg.append("g");
arrows.forEach(a => {
    var pts = [
        [a.tipL, a.mid], [a.notchL, a.top], [a.notchL, a.shaftTop], [a.notchR, a.shaftTop],
        [a.notchR, a.top], [a.tipR, a.mid], [a.notchR, a.bottom], [a.notchR, a.shaftBottom],
        [a.notchL, a.shaftBottom], [a.notchL, a.bottom]
    ];
    arrowG.append("polygon")
        .attr("points", pts.map(p => p.join(",")).join(" "))
        .attr("fill", a.fill)
        .attr("stroke", "#41719c")
        .attr("stroke-width", 3)
        .attr("stroke-linejoin", "miter");
    a.lines.forEach(l => {
        arrowG.append("text")
            .attr("x", a.cx).attr("y", l[1])
            .attr("text-anchor", "middle")
            .attr("font-weight", "bold")
            .attr("font-size", a.size)
            .attr("fill", a.color)
            .text(l[0]);
    });
});

// legend
var legend = svg.append("g");
legend.append("rect")
    .attr("x", 980).attr("y", 444).attr("width", 148).attr("height", 74)
    .attr("fill", "#d6d6d6");
legend.append("rect")
    .attr("x", 978).attr("y", 442).attr("width", 148).attr("height", 74)
    .attr("fill", "#fff").attr("stroke", "#595959").attr("stroke-width", 1.5);
legend.append("path")
    .attr("d", "M0,-3L3,0L0,3L-3,0Z")
    .attr("transform", "translate(1012,460)")
    .attr("fill", "#4a7fc0").attr("stroke", "#07101c").attr("stroke-width", 0.8);
legend.append("rect")
    .attr("x", 1009.5).attr("y", 494.5).attr("width", 5).attr("height", 5)
    .attr("fill", "#dc5550").attr("stroke", "#1c0404").attr("stroke-width", 0.8);
legend.append("text").attr("x", 1026).attr("y", 467).attr("font-size", 21.5).attr("fill", "#222").text("~<PZ>");
legend.append("text").attr("x", 1026).attr("y", 504).attr("font-size", 21.5).attr("fill", "#222").text("~PZrms");

// "new capacitor" label
svg.append("rect")
    .attr("x", 687).attr("y", 507).attr("width", 305).attr("height", 72)
    .attr("fill", "#93dcfb");
svg.append("text")
    .attr("x", 839).attr("y", 558)
    .attr("text-anchor", "middle")
    .attr("font-family", "'Liberation Sans', Arial, sans-serif")
    .attr("font-size", 43)
    .attr("fill", "#000")
    .text("new capacitor");
</script>
</body>
</html>
